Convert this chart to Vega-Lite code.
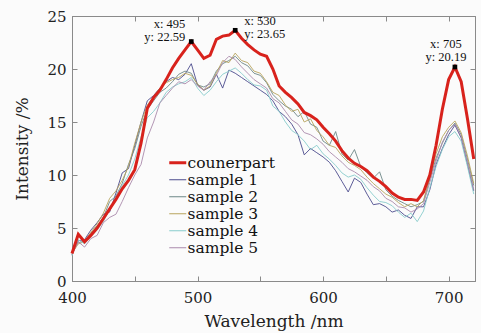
{
  "$schema": "https://vega.github.io/schema/vega-lite/v6.json",
  "width": 403,
  "height": 265,
  "autosize": "none",
  "padding": {"left": 72, "top": 16, "right": 6, "bottom": 52},
  "background": "#fbfbfb",
  "config": {
    "font": "DejaVu Serif",
    "view": {"stroke": "#8a8a8a", "strokeWidth": 1},
    "axis": {
      "domainColor": "#8a8a8a",
      "tickColor": "#8a8a8a",
      "tickSize": -5,
      "labelColor": "#222",
      "titleColor": "#222",
      "labelFont": "DejaVu Serif",
      "titleFont": "DejaVu Serif",
      "labelFontSize": 15,
      "titleFontSize": 17,
      "titleFontWeight": "normal",
      "grid": false
    }
  },
  "datasets": {
    "spectra": [
      {"wl":400,"counerpart":2.6,"sample 1":2.5,"sample 2":2.8,"sample 3":2.6,"sample 4":2.4,"sample 5":2.5},
      {"wl":405,"counerpart":4.4,"sample 1":3.8,"sample 2":3.6,"sample 3":3.5,"sample 4":3.9,"sample 5":3.7},
      {"wl":410,"counerpart":3.7,"sample 1":3.9,"sample 2":3.8,"sample 3":3.7,"sample 4":3.5,"sample 5":3.2},
      {"wl":415,"counerpart":4.3,"sample 1":4.8,"sample 2":4.5,"sample 3":4.6,"sample 4":4.2,"sample 5":4.0},
      {"wl":420,"counerpart":5.0,"sample 1":5.5,"sample 2":5.2,"sample 3":5.4,"sample 4":4.8,"sample 5":4.3},
      {"wl":425,"counerpart":5.9,"sample 1":6.3,"sample 2":6.0,"sample 3":6.4,"sample 4":5.6,"sample 5":5.5},
      {"wl":430,"counerpart":6.8,"sample 1":6.5,"sample 2":7.5,"sample 3":7.8,"sample 4":6.8,"sample 5":6.0},
      {"wl":435,"counerpart":7.7,"sample 1":8.3,"sample 2":8.0,"sample 3":8.5,"sample 4":7.8,"sample 5":6.3},
      {"wl":440,"counerpart":8.7,"sample 1":10.2,"sample 2":9.2,"sample 3":9.5,"sample 4":9.0,"sample 5":7.5},
      {"wl":445,"counerpart":9.5,"sample 1":10.6,"sample 2":11.0,"sample 3":10.8,"sample 4":10.0,"sample 5":8.8},
      {"wl":450,"counerpart":10.5,"sample 1":12.8,"sample 2":12.5,"sample 3":13.0,"sample 4":11.5,"sample 5":10.0},
      {"wl":455,"counerpart":13.0,"sample 1":15.0,"sample 2":14.6,"sample 3":15.0,"sample 4":13.6,"sample 5":11.0},
      {"wl":460,"counerpart":16.3,"sample 1":17.0,"sample 2":16.2,"sample 3":16.6,"sample 4":15.4,"sample 5":13.5},
      {"wl":465,"counerpart":17.3,"sample 1":17.5,"sample 2":17.0,"sample 3":17.4,"sample 4":16.0,"sample 5":15.0},
      {"wl":470,"counerpart":18.0,"sample 1":18.2,"sample 2":17.8,"sample 3":18.2,"sample 4":16.8,"sample 5":16.8},
      {"wl":475,"counerpart":19.0,"sample 1":18.8,"sample 2":18.2,"sample 3":18.7,"sample 4":17.8,"sample 5":17.5},
      {"wl":480,"counerpart":20.1,"sample 1":19.2,"sample 2":18.8,"sample 3":19.0,"sample 4":18.3,"sample 5":18.2},
      {"wl":485,"counerpart":21.0,"sample 1":19.0,"sample 2":19.5,"sample 3":19.2,"sample 4":18.6,"sample 5":18.8},
      {"wl":490,"counerpart":21.8,"sample 1":19.5,"sample 2":19.8,"sample 3":19.6,"sample 4":18.8,"sample 5":18.6},
      {"wl":495,"counerpart":22.59,"sample 1":20.5,"sample 2":19.6,"sample 3":19.4,"sample 4":19.2,"sample 5":19.0},
      {"wl":500,"counerpart":21.8,"sample 1":18.5,"sample 2":18.5,"sample 3":18.6,"sample 4":18.2,"sample 5":18.4},
      {"wl":505,"counerpart":21.0,"sample 1":18.0,"sample 2":18.3,"sample 3":18.0,"sample 4":17.5,"sample 5":18.0},
      {"wl":510,"counerpart":21.3,"sample 1":18.3,"sample 2":18.6,"sample 3":18.4,"sample 4":18.0,"sample 5":18.8},
      {"wl":515,"counerpart":22.8,"sample 1":19.5,"sample 2":19.8,"sample 3":19.6,"sample 4":18.8,"sample 5":19.4},
      {"wl":520,"counerpart":23.1,"sample 1":18.2,"sample 2":20.5,"sample 3":20.8,"sample 4":19.5,"sample 5":20.6},
      {"wl":525,"counerpart":23.2,"sample 1":19.9,"sample 2":20.8,"sample 3":20.6,"sample 4":19.8,"sample 5":21.2},
      {"wl":530,"counerpart":23.65,"sample 1":19.6,"sample 2":21.2,"sample 3":21.5,"sample 4":20.1,"sample 5":20.9},
      {"wl":535,"counerpart":22.9,"sample 1":19.2,"sample 2":20.6,"sample 3":20.8,"sample 4":19.6,"sample 5":20.2},
      {"wl":540,"counerpart":22.3,"sample 1":18.8,"sample 2":20.3,"sample 3":20.6,"sample 4":19.0,"sample 5":19.6},
      {"wl":545,"counerpart":21.8,"sample 1":18.4,"sample 2":19.6,"sample 3":19.8,"sample 4":18.5,"sample 5":19.0},
      {"wl":550,"counerpart":21.4,"sample 1":18.0,"sample 2":19.4,"sample 3":19.6,"sample 4":18.4,"sample 5":18.6},
      {"wl":555,"counerpart":21.2,"sample 1":17.6,"sample 2":18.7,"sample 3":18.8,"sample 4":18.0,"sample 5":18.2},
      {"wl":560,"counerpart":20.0,"sample 1":17.0,"sample 2":17.6,"sample 3":17.8,"sample 4":16.5,"sample 5":17.2},
      {"wl":565,"counerpart":18.4,"sample 1":16.0,"sample 2":17.0,"sample 3":17.5,"sample 4":16.0,"sample 5":16.8},
      {"wl":570,"counerpart":17.8,"sample 1":15.5,"sample 2":16.5,"sample 3":16.6,"sample 4":15.0,"sample 5":16.0},
      {"wl":575,"counerpart":17.3,"sample 1":14.8,"sample 2":16.2,"sample 3":16.0,"sample 4":14.2,"sample 5":15.2},
      {"wl":580,"counerpart":16.7,"sample 1":13.8,"sample 2":15.5,"sample 3":16.2,"sample 4":13.8,"sample 5":14.8},
      {"wl":585,"counerpart":15.9,"sample 1":11.9,"sample 2":16.0,"sample 3":15.0,"sample 4":13.2,"sample 5":14.0},
      {"wl":590,"counerpart":15.6,"sample 1":12.5,"sample 2":14.8,"sample 3":15.3,"sample 4":12.4,"sample 5":13.8},
      {"wl":595,"counerpart":15.2,"sample 1":12.1,"sample 2":14.5,"sample 3":14.2,"sample 4":12.8,"sample 5":13.4},
      {"wl":600,"counerpart":14.5,"sample 1":11.7,"sample 2":13.2,"sample 3":13.6,"sample 4":12.0,"sample 5":12.9},
      {"wl":605,"counerpart":13.9,"sample 1":11.2,"sample 2":12.8,"sample 3":12.8,"sample 4":11.5,"sample 5":12.2},
      {"wl":610,"counerpart":13.2,"sample 1":10.4,"sample 2":14.1,"sample 3":12.6,"sample 4":10.9,"sample 5":11.7},
      {"wl":615,"counerpart":12.3,"sample 1":9.4,"sample 2":12.0,"sample 3":11.8,"sample 4":10.2,"sample 5":11.2},
      {"wl":620,"counerpart":11.6,"sample 1":8.4,"sample 2":11.4,"sample 3":11.2,"sample 4":9.8,"sample 5":10.6},
      {"wl":625,"counerpart":11.1,"sample 1":9.7,"sample 2":12.4,"sample 3":10.9,"sample 4":10.0,"sample 5":10.3},
      {"wl":630,"counerpart":10.8,"sample 1":9.3,"sample 2":10.8,"sample 3":10.5,"sample 4":9.6,"sample 5":9.9},
      {"wl":635,"counerpart":10.4,"sample 1":8.2,"sample 2":10.2,"sample 3":9.8,"sample 4":8.8,"sample 5":9.5},
      {"wl":640,"counerpart":9.8,"sample 1":7.2,"sample 2":9.7,"sample 3":9.2,"sample 4":8.1,"sample 5":8.9},
      {"wl":645,"counerpart":9.4,"sample 1":7.3,"sample 2":10.3,"sample 3":8.7,"sample 4":7.5,"sample 5":8.5},
      {"wl":650,"counerpart":8.9,"sample 1":7.0,"sample 2":8.6,"sample 3":8.2,"sample 4":7.4,"sample 5":7.8},
      {"wl":655,"counerpart":8.3,"sample 1":6.5,"sample 2":8.0,"sample 3":7.9,"sample 4":7.1,"sample 5":7.5},
      {"wl":660,"counerpart":7.9,"sample 1":6.7,"sample 2":7.6,"sample 3":7.4,"sample 4":6.5,"sample 5":7.0},
      {"wl":665,"counerpart":7.7,"sample 1":6.2,"sample 2":7.3,"sample 3":7.0,"sample 4":6.0,"sample 5":6.9},
      {"wl":670,"counerpart":7.7,"sample 1":5.9,"sample 2":7.0,"sample 3":7.3,"sample 4":6.4,"sample 5":6.5},
      {"wl":675,"counerpart":7.6,"sample 1":7.0,"sample 2":7.2,"sample 3":7.0,"sample 4":5.6,"sample 5":6.8},
      {"wl":680,"counerpart":8.4,"sample 1":7.0,"sample 2":7.5,"sample 3":7.6,"sample 4":6.6,"sample 5":7.3},
      {"wl":685,"counerpart":10.0,"sample 1":8.6,"sample 2":9.6,"sample 3":9.8,"sample 4":8.8,"sample 5":9.3},
      {"wl":690,"counerpart":12.8,"sample 1":11.0,"sample 2":11.6,"sample 3":12.0,"sample 4":10.8,"sample 5":11.3},
      {"wl":695,"counerpart":16.2,"sample 1":12.5,"sample 2":13.0,"sample 3":13.6,"sample 4":12.4,"sample 5":13.1},
      {"wl":700,"counerpart":19.0,"sample 1":13.8,"sample 2":14.2,"sample 3":14.5,"sample 4":13.6,"sample 5":14.2},
      {"wl":705,"counerpart":20.19,"sample 1":14.7,"sample 2":14.9,"sample 3":15.1,"sample 4":14.1,"sample 5":14.8},
      {"wl":710,"counerpart":18.8,"sample 1":13.5,"sample 2":13.8,"sample 3":14.0,"sample 4":13.2,"sample 5":13.6},
      {"wl":715,"counerpart":15.3,"sample 1":11.0,"sample 2":11.5,"sample 3":11.8,"sample 4":10.8,"sample 5":11.2},
      {"wl":720,"counerpart":11.5,"sample 1":8.5,"sample 2":9.0,"sample 3":9.2,"sample 4":8.2,"sample 5":8.6}
    ],
    "peaks": [
      {"wl":495,"v":22.59,"label":"x: 495\ny: 22.59"},
      {"wl":530,"v":23.65,"label":"x: 530\ny: 23.65"},
      {"wl":705,"v":20.19,"label":"x: 705\ny: 20.19"}
    ]
  },
  "data": {"name": "spectra"},
  "layer": [
    {
      "transform": [
        {"fold": ["counerpart","sample 1","sample 2","sample 3","sample 4","sample 5"], "as": ["series","value"]},
        {"filter": "datum.series != 'counerpart'"}
      ],
      "mark": {"type": "line", "strokeWidth": 0.9},
      "encoding": {
        "x": {"field": "wl", "type": "quantitative",
              "scale": {"domain": [400, 721], "nice": false, "zero": false},
              "axis": {"orient": "bottom", "title": "Wavelength /nm", "values": [400,450,500,550,600,650,700],
                       "labelExpr": "datum.value % 100 == 0 ? datum.label : ''", "labelPadding": 14, "titlePadding": 8, "labelFlush": false}},
        "y": {"field": "value", "type": "quantitative",
              "scale": {"domain": [0, 25], "nice": false},
              "axis": {"orient": "left", "title": "Intensity /%", "values": [0,5,10,15,20,25], "labelPadding": 11, "titlePadding": 15}},
        "color": {"field": "series", "type": "nominal",
                  "scale": {"domain": ["counerpart","sample 1","sample 2","sample 3","sample 4","sample 5"],
                            "range": ["#d8221c","#4b4b8c","#6d8787","#b8a45e","#88cccc","#aa8aac"]},
                  "legend": {"title": null, "orient": "none", "legendX": 98, "legendY": 139,
                             "symbolType": "stroke", "symbolSize": 289,
                             "labelFont": "DejaVu Serif", "labelFontSize": 15.5, "labelColor": "#111",
                             "labelOffset": 2, "rowPadding": 0, "padding": 0,
                             "encode": {"symbols": {"update": {"strokeWidth": {"signal": "datum.value === 'counerpart' ? 3 : 1"}}}}}}
      }
    },
    {
      "transform": [
        {"fold": ["counerpart","sample 1","sample 2","sample 3","sample 4","sample 5"], "as": ["series","value"]},
        {"filter": "datum.series == 'counerpart'"}
      ],
      "mark": {"type": "line", "strokeWidth": 3},
      "encoding": {
        "x": {"field": "wl", "type": "quantitative", "axis": null},
        "y": {"field": "value", "type": "quantitative", "axis": null},
        "color": {"field": "series", "type": "nominal"}
      }
    },
    {
      "data": {"name": "peaks"},
      "mark": {"type": "square", "size": 22, "filled": true, "color": "#000", "opacity": 1},
      "encoding": {
        "x": {"field": "wl", "type": "quantitative", "axis": null},
        "y": {"field": "v", "type": "quantitative", "axis": null}
      }
    },
    {
      "data": {"name": "peaks"},
      "transform": [{"filter": "datum.wl == 495"}],
      "mark": {"type": "text", "align": "right", "baseline": "middle", "dx": -6, "dy": -18, "lineBreak": "\n", "lineHeight": 13, "fontSize": 12.5, "font": "Liberation Serif", "color": "#111"},
      "encoding": {
        "x": {"field": "wl", "type": "quantitative", "axis": null},
        "y": {"field": "v", "type": "quantitative", "axis": null},
        "text": {"field": "label"}
      }
    },
    {
      "data": {"name": "peaks"},
      "transform": [{"filter": "datum.wl == 530"}],
      "mark": {"type": "text", "align": "left", "baseline": "middle", "dx": 9, "dy": -9.5, "lineBreak": "\n", "lineHeight": 13, "fontSize": 12.5, "font": "Liberation Serif", "color": "#111"},
      "encoding": {
        "x": {"field": "wl", "type": "quantitative", "axis": null},
        "y": {"field": "v", "type": "quantitative", "axis": null},
        "text": {"field": "label"}
      }
    },
    {
      "data": {"name": "peaks"},
      "transform": [{"filter": "datum.wl == 705"}],
      "mark": {"type": "text", "align": "center", "baseline": "middle", "dx": -9, "dy": -23, "lineBreak": "\n", "lineHeight": 13, "fontSize": 12.5, "font": "Liberation Serif", "color": "#111"},
      "encoding": {
        "x": {"field": "wl", "type": "quantitative", "axis": null},
        "y": {"field": "v", "type": "quantitative", "axis": null},
        "text": {"field": "label"}
      }
    },
    {
      "data": {"name": "peaks"},
      "mark": {"type": "point", "opacity": 0},
      "encoding": {
        "x": {"field": "wl", "type": "quantitative",
              "axis": {"orient": "top", "title": null, "labels": false, "values": [400,450,500,550,600,650,700]}},
        "y": {"field": "v", "type": "quantitative",
              "axis": {"orient": "right", "title": null, "labels": false, "values": [0,5,10,15,20,25]}}
      }
    }
  ],
  "resolve": {"axis": {"x": "independent", "y": "independent"}}
}
